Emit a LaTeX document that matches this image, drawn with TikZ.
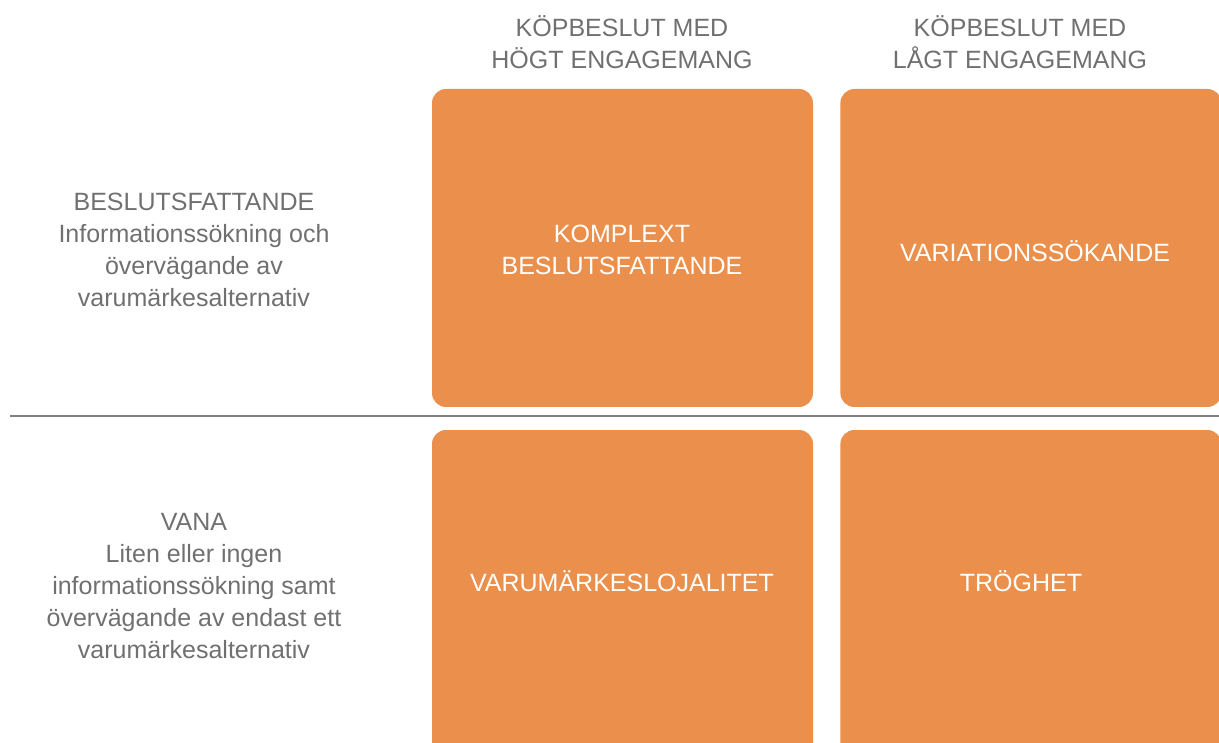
\documentclass[tikz,border=0pt]{standalone}
\usepackage{fontspec}
\setmainfont{Liberation Sans}
\usetikzlibrary{
  positioning               % 节点相对定位
}
\definecolor{ruta}{RGB}{234,144,76}
\definecolor{textgra}{RGB}{112,112,112}
\definecolor{linjegra}{RGB}{128,128,128}

\begin{document}
\begin{tikzpicture}[x=1pt, y=-1pt,
  ruta/.style={fill=ruta, rounded corners=14pt, minimum width=381pt,
               minimum height=318pt, inner sep=0pt},
  rutatext/.style={text=white, align=center,
                   font=\fontsize{25}{32}\selectfont},
  etikett/.style={text=textgra, align=center,
                  font=\fontsize{25}{32}\selectfont}]

  % 画布范围
  \useasboundingbox (0,0) rectangle (1219,743);
  \clip (0,0) rectangle (1219,743);

  % =========== 列标题 ===========
  \node[etikett] (hogt) at (622,42) {KÖPBESLUT MED\\HÖGT ENGAGEMANG};
  \node[etikett] (lagt) at (1020,42) {KÖPBESLUT MED\\LÅGT ENGAGEMANG};

  % =========== 上排方块 ===========
  \node[ruta] (komplext) at (622.5,248) {};
  \node[ruta, right=27pt of komplext] (variation) {};
  \node[rutatext] (tkomplext) at (622,249.5) {KOMPLEXT\\BESLUTSFATTANDE};
  \node[rutatext] (tvariation) at (1035,251) {VARIATIONSSÖKANDE};

  % =========== 下排方块 ===========
  \node[ruta, minimum height=340pt] (lojalitet) at (622.5,600) {};
  \node[ruta, minimum height=340pt, right=27pt of lojalitet] (troghet) {};
  \node[rutatext] (tlojalitet) at (622,581) {VARUMÄRKESLOJALITET};
  \node[rutatext] (ttroghet) at (1021,581) {TRÖGHET};

  % =========== 分隔线 ===========
  \coordinate (linjev) at (10,416.5);
  \coordinate (linjeh) at (1219,416.5);
  \draw[linjegra, line width=2pt] (linjev) -- (linjeh);

  % =========== 行标题 ===========
  \node[etikett] (beslut) at (194,249.5)
    {BESLUTSFATTANDE\\Informationssökning och\\övervägande av\\varumärkesalternativ};
  \node[etikett] (vana) at (194,586)
    {VANA\\Liten eller ingen\\informationssökning samt\\övervägande av endast ett\\varumärkesalternativ};

\end{tikzpicture}
\end{document}
